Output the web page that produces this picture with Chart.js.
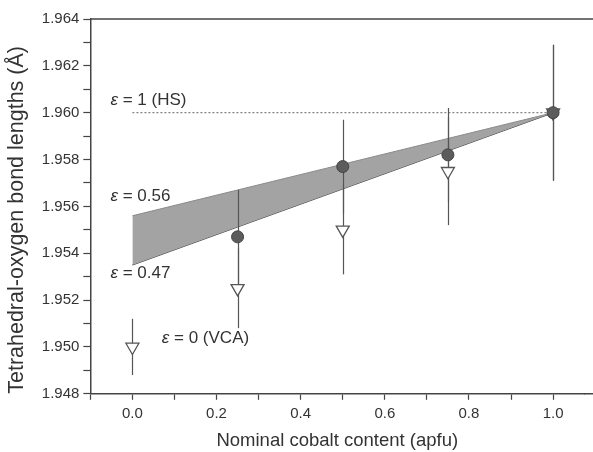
<!DOCTYPE html>
<html>
<head>
<meta charset="utf-8">
<script src="https://cdn.jsdelivr.net/npm/chart.js@4/dist/chart.umd.min.js"></script>
<style>
  html, body { margin: 0; padding: 0; background: #fff; }
  #wrap { width: 593px; height: 452px; }
</style>
</head>
<body>
<div id="wrap"><canvas id="myChart"></canvas></div>
<script>
// measured Co-bearing samples (filled circles)
const measX = [0.25, 0.5, 0.75, 1.0]
const measY = [1.9547, 1.9577, 1.9582, 1.9600]
const measErr = [0.0020, 0.0020, 0.0020, 0.0029]

// eps = 0 (VCA) open triangles
const vcaX = [0.0, 0.25, 0.5, 0.75, 1.0]
const vcaY = [1.9500, 1.9525, 1.9550, 1.9575, 1.9600]
const vcaErr = [0.0012, 0.0017, 0.0019, 0.0023, 0.0029]

// shaded band between eps = 0.56 and eps = 0.47
const bandX = [0.0, 1.0]
const bandUpper = [1.9556, 1.9600]
const bandLower = [1.9535, 1.9600]
const hsY = [1.9600, 1.9600]

// tick marks (major ones get a label)
const xTicks = [-0.1, 0.0, 0.1, 0.2, 0.3, 0.4, 0.5, 0.6, 0.7, 0.8, 0.9, 1.0]
const xTickLabels = ['0.0', '0.2', '0.4', '0.6', '0.8', '1.0']
const yTickLabels = ['1.948', '1.950', '1.952', '1.954', '1.956', '1.958', '1.960', '1.962', '1.964']

// text notes: [x, y, greek part, rest]
const notes = [
  [-0.052, 1.96053, 'ε', ' = 1 (HS)'],
  [-0.052, 1.95643, 'ε', ' = 0.56'],
  [-0.052, 1.95313, 'ε', ' = 0.47'],
  [0.07, 1.95035, 'ε', ' = 0 (VCA)']
]

const FONT = 'Arial, "Liberation Sans", sans-serif'
const ink = '#333'

const toPts = (xs, ys) => xs.map((x, i) => ({ x: x, y: ys[i] }))

const errorBars = {
  id: 'errorBars',
  afterDatasetDraw(chart, args) {
    if (args.index !== 0) return
    const c = chart.ctx, xs = chart.scales.x, ys = chart.scales.y
    c.save()
    c.strokeStyle = '#555'
    c.lineWidth = 1.2
    const bars = (X, Y, E) => X.forEach((x, i) => {
      const px = Math.round(xs.getPixelForValue(x)) + 0.5
      c.beginPath()
      c.moveTo(px, ys.getPixelForValue(Y[i] + E[i]))
      c.lineTo(px, ys.getPixelForValue(Y[i] - E[i]))
      c.stroke()
    })
    bars(vcaX, vcaY, vcaErr)
    bars(measX, measY, measErr)
    c.restore()
  }
}

const frame = {
  id: 'frame',
  afterDraw(chart) {
    const c = chart.ctx, a = chart.chartArea, xs = chart.scales.x, ys = chart.scales.y
    c.save()
    c.strokeStyle = '#444'
    c.lineWidth = 1.5
    c.beginPath()
    c.moveTo(a.left, a.top)
    c.lineTo(chart.width, a.top)
    c.moveTo(a.right, a.bottom)
    c.lineTo(chart.width, a.bottom)
    c.stroke()
    c.fillStyle = ink
    c.textBaseline = 'middle'
    notes.forEach(n => {
      let px = xs.getPixelForValue(n[0])
      const py = ys.getPixelForValue(n[1])
      c.font = 'italic 17px ' + FONT
      c.fillText(n[2], px, py)
      px += c.measureText(n[2]).width
      c.font = '17px ' + FONT
      c.fillText(n[3], px, py)
    })
    c.restore()
  }
}

const ctx = document.getElementById('myChart')

const myChart = new Chart(ctx, {
  type: 'scatter',
  data: {
    datasets: [
      {
        data: toPts(bandX, bandUpper),
        showLine: true,
        fill: '+1',
        backgroundColor: '#a3a3a3',
        borderColor: '#8a8a8a',
        borderWidth: 1,
        pointRadius: 0,
        order: 3
      },
      {
        data: toPts(bandX, bandLower),
        showLine: true,
        borderColor: '#444',
        borderWidth: 1.2,
        pointRadius: 0,
        order: 3
      },
      {
        data: toPts(bandX, hsY),
        showLine: true,
        borderColor: '#666',
        borderWidth: 1,
        borderDash: [2, 2],
        pointRadius: 0,
        order: 3
      },
      {
        data: toPts(vcaX, vcaY),
        pointStyle: 'triangle',
        rotation: 180,
        pointRadius: 7.5,
        pointBackgroundColor: '#fff',
        pointBorderColor: '#555',
        pointBorderWidth: 1.3,
        order: 1
      },
      {
        data: toPts(measX, measY),
        pointStyle: 'circle',
        pointRadius: 6,
        pointBackgroundColor: '#5c5c5c',
        pointBorderColor: '#444',
        pointBorderWidth: 1,
        order: 0
      }
    ]
  },
  options: {
    responsive: true,
    maintainAspectRatio: false,
    animation: false,
    layout: { padding: { top: 19, right: 0, bottom: 0, left: 4 } },
    plugins: {
      legend: { display: false },
      tooltip: { enabled: false }
    },
    scales: {
      x: {
        type: 'linear',
        min: -0.1,
        max: 1.074,
        afterBuildTicks: s => { s.ticks = xTicks.map(v => ({ value: v })) },
        border: { color: '#444', width: 1.5 },
        grid: { drawOnChartArea: false, tickLength: 6, tickColor: '#444', tickWidth: 1.2 },
        ticks: {
          autoSkip: false,
          maxRotation: 0,
          color: ink,
          font: { family: FONT, size: 15 },
          padding: 5,
          callback: v => {
            const s = (Math.round(v * 10) / 10).toFixed(1)
            return xTickLabels.includes(s) ? s : ''
          }
        },
        title: {
          display: true,
          text: 'Nominal cobalt content (apfu)',
          color: ink,
          font: { family: FONT, size: 18.5 },
          padding: { top: 2, bottom: 0 }
        }
      },
      y: {
        type: 'linear',
        min: 1.948,
        max: 1.964,
        border: { color: '#444', width: 1.5 },
        grid: { drawOnChartArea: false, tickLength: 7, tickColor: '#444', tickWidth: 1.2 },
        ticks: {
          stepSize: 0.001,
          autoSkip: false,
          color: ink,
          font: { family: FONT, size: 15 },
          padding: 4,
          callback: v => {
            const s = (Math.round(v * 1000) / 1000).toFixed(3)
            return yTickLabels.includes(s) ? s : ''
          }
        },
        title: {
          display: true,
          align: 'start',
          text: 'Tetrahedral-oxygen bond lengths (Å)',
          color: ink,
          font: { family: FONT, size: 21.5 },
          padding: { top: 0, bottom: 8 }
        }
      }
    }
  },
  plugins: [errorBars, frame]
})
</script>
</body>
</html>
